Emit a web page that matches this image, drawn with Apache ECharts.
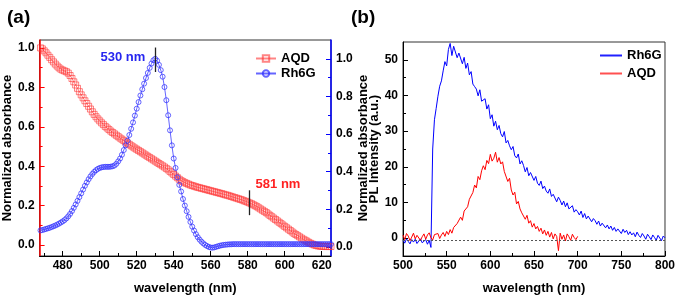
<!DOCTYPE html>
<html><head><meta charset="utf-8">
<script src="https://cdn.jsdelivr.net/npm/echarts@6/dist/echarts.min.js"></script>
<style>html,body{margin:0;padding:0;background:#fff}#c{width:678px;height:304px}</style>
</head><body><div id="c"></div>
<script>
// ---------- Panel (a): absorbance, 468..625 nm, 1 nm steps ----------
const absWavelength = [];
for (let w = 468; w <= 625; w++) absWavelength.push(w);

const aqdAbsorbance = [
  1.000,0.995,0.985,0.975,0.963,0.952,0.940,0.929,0.918,0.908,
  0.899,0.892,0.887,0.883,0.879,0.872,0.860,0.845,0.828,0.812,
  0.795,0.778,0.762,0.747,0.732,0.718,0.704,0.690,0.676,0.663,
  0.651,0.640,0.630,0.620,0.611,0.602,0.594,0.586,0.578,0.571,
  0.564,0.557,0.550,0.543,0.537,0.530,0.523,0.517,0.511,0.504,
  0.498,0.492,0.486,0.480,0.474,0.468,0.462,0.456,0.450,0.444,
  0.438,0.432,0.426,0.420,0.414,0.408,0.402,0.396,0.389,0.382,
  0.374,0.366,0.358,0.350,0.342,0.334,0.327,0.322,0.317,0.313,
  0.309,0.305,0.302,0.299,0.296,0.293,0.291,0.288,0.286,0.283,
  0.281,0.278,0.276,0.273,0.271,0.268,0.266,0.263,0.261,0.258,
  0.255,0.253,0.250,0.247,0.244,0.241,0.238,0.235,0.232,0.229,
  0.225,0.222,0.218,0.214,0.210,0.205,0.200,0.195,0.189,0.183,
  0.177,0.171,0.165,0.158,0.151,0.144,0.137,0.130,0.123,0.116,
  0.109,0.102,0.095,0.088,0.081,0.074,0.067,0.060,0.054,0.048,
  0.042,0.036,0.030,0.025,0.020,0.014,0.009,0.005,0.001,-0.002,
  -0.004,-0.005,-0.006,-0.006,-0.007,-0.007,-0.007,-0.007
];

const rh6gAbsorbance = [
  0.088,0.090,0.093,0.096,0.099,0.102,0.106,0.110,0.114,0.119,
  0.124,0.130,0.136,0.143,0.152,0.163,0.176,0.191,0.208,0.226,
  0.245,0.265,0.285,0.305,0.325,0.343,0.360,0.375,0.388,0.399,
  0.408,0.415,0.420,0.423,0.425,0.426,0.426,0.426,0.427,0.429,
  0.433,0.442,0.455,0.470,0.490,0.515,0.540,0.565,0.595,0.628,
  0.662,0.698,0.735,0.770,0.805,0.838,0.868,0.898,0.925,0.952,
  0.975,0.992,1.000,0.990,0.968,0.940,0.905,0.850,0.780,0.700,
  0.620,0.540,0.470,0.420,0.370,0.330,0.295,0.255,0.220,0.190,
  0.160,0.133,0.108,0.087,0.068,0.052,0.039,0.028,0.019,0.011,
  0.005,0.000,-0.003,-0.004,-0.002,0.001,0.004,0.007,0.009,0.011,
  0.012,0.013,0.014,0.014,0.015,0.015,0.015,0.015,0.015,0.015,
  0.015,0.015,0.015,0.015,0.015,0.015,0.015,0.015,0.015,0.015,
  0.015,0.015,0.015,0.015,0.015,0.015,0.015,0.015,0.015,0.015,
  0.015,0.015,0.015,0.015,0.015,0.015,0.015,0.015,0.015,0.015,
  0.015,0.015,0.015,0.015,0.015,0.015,0.015,0.015,0.015,0.015,
  0.015,0.015,0.015,0.015,0.015,0.015,0.015,0.015
];

const absXTicks = [480,500,520,540,560,580,600,620];
const absXMinor = [470,490,510,530,550,570,590,610];
const absYTicks = [0,0.2,0.4,0.6,0.8,1.0];
const absYMinor = [0.1,0.3,0.5,0.7,0.9];

const peakLabels = ['530 nm', '581 nm'];
const peakWavelengths = [530, 581];

// ---------- Panel (b): PL intensity, 2 nm steps ----------
const rh6gPLWavelength = [];
for (let w = 500; w <= 800; w += 2) rh6gPLWavelength.push(w);
const rh6gPL = [
  -0.5,-1.4,-0.2,-0.9,-1.6,-0.4,-1.1,-0.3,-1.5,-0.8,
  -0.2,-1.3,-1.0,-0.4,-1.7,-0.6,-2.6,25.0,33.2,36.4,
  39.8,42.6,44.1,46.9,49.5,48.3,52.9,54.6,51.2,53.8,
  54.3,50.6,51.9,52.4,48.9,50.7,47.6,49.1,45.8,46.7,
  43.2,42.5,41.8,39.9,41.6,38.4,38.0,39.1,36.2,37.4,
  33.5,34.6,31.4,32.8,30.4,31.6,29.3,28.4,29.9,26.7,
  27.4,25.9,24.8,25.7,23.1,22.5,23.6,20.8,21.7,20.4,
  18.6,19.8,17.5,18.4,17.9,16.2,17.3,15.4,14.8,16.0,
  13.9,14.6,13.2,12.6,13.8,11.7,12.3,11.9,10.2,11.5,
  10.6,9.3,10.4,8.8,9.9,8.2,8.6,9.1,7.3,8.0,
  7.4,6.5,7.6,5.8,6.9,5.4,6.2,5.7,4.6,5.5,
  4.9,3.9,4.8,3.4,4.2,3.8,2.9,3.7,2.6,3.4,
  2.2,3.0,1.9,2.6,2.4,1.3,2.5,1.6,2.2,1.0,
  1.8,0.9,1.5,0.4,1.7,0.8,0.2,1.3,0.6,-0.3,
  1.1,0.4,-0.4,0.9,0.2,-0.6,0.8,0.3,-0.7,0.6,
  0.1
];

const aqdPLWavelength = [];
for (let w = 500; w <= 700; w += 2) aqdPLWavelength.push(w);
const aqdPL = [
  0.9,-0.4,1.3,0.6,-0.7,0.3,1.4,-0.2,0.8,1.1,
  -0.6,0.4,1.2,-0.3,0.9,1.5,0.1,-0.5,1.0,0.6,
  1.3,-0.1,0.9,1.6,0.5,1.9,1.0,2.4,1.4,3.0,
  2.6,4.1,3.8,5.9,5.0,7.6,7.3,8.8,10.9,10.4,
  12.8,14.9,14.1,17.3,16.4,18.9,20.3,19.2,21.8,20.9,
  23.5,21.6,22.4,24.1,21.3,22.6,20.8,21.4,18.7,18.2,
  15.9,16.8,13.5,12.1,12.9,9.6,10.3,8.2,7.1,7.6,
  5.3,6.4,4.2,4.9,3.1,4.1,2.6,3.3,1.9,2.8,
  1.2,2.3,0.8,1.9,0.3,1.6,-0.2,1.2,0.5,-3.5,
  1.4,-0.3,0.9,-0.8,1.2,0.4,-0.6,1.1,0.2,-0.4,
  0.5
];
const plBaseline = -0.5;

const plXTicks = [500,550,600,650,700,750,800];
const plXMinor = [525,575,625,675,725,775];
const plYTicks = [0,10,20,30,40,50];
const plYMinor = [5,15,25,35,45];

// ---------- build ----------
const zip = (xs, ys) => xs.map((x, i) => [x, ys[i]]);
const FONT = '"Liberation Sans", Arial, sans-serif';
const lbl = { fontFamily: FONT, fontWeight: 'bold', fontSize: 12, color: '#000' };
const nameStyle = { fontFamily: FONT, fontWeight: 'bold', fontSize: 13, color: '#000' };

function xMajor(grid, min, max, ticks) {
  return { gridIndex: grid, type: 'value', min, max, position: 'bottom',
    axisLine: { show: true, onZero: false, lineStyle: { color: '#000', width: 1 } },
    axisTick: { show: true, inside: true, length: 5, customValues: ticks, lineStyle: { color: '#000' } },
    axisLabel: Object.assign({ margin: 4, customValues: ticks }, lbl),
    splitLine: { show: false },
    name: 'wavelength (nm)', nameLocation: 'middle', nameGap: 26, nameTextStyle: nameStyle };
}
function xMinor(grid, min, max, ticks) {
  return { gridIndex: grid, type: 'value', min, max, position: 'bottom',
    axisLine: { show: false, onZero: false },
    axisTick: { show: true, inside: true, length: 3, customValues: ticks, lineStyle: { color: '#000' } },
    axisLabel: { show: false }, splitLine: { show: false } };
}
function yMajor(grid, pos, min, max, ticks, color, width, fmt, name, gap) {
  return { gridIndex: grid, type: 'value', min, max, position: pos,
    axisLine: { show: true, onZero: false, lineStyle: { color, width } },
    axisTick: { show: true, inside: true, length: 5, customValues: ticks, lineStyle: { color } },
    axisLabel: Object.assign({ margin: 5, customValues: ticks, formatter: fmt }, lbl),
    splitLine: { show: false },
    name, nameLocation: 'middle', nameRotate: 90, nameGap: gap, nameTextStyle: nameStyle };
}
function yMinor(grid, pos, min, max, ticks, color) {
  return { gridIndex: grid, type: 'value', min, max, position: pos,
    axisLine: { show: false, onZero: false },
    axisTick: { show: true, inside: true, length: 3, customValues: ticks, lineStyle: { color } },
    axisLabel: { show: false }, splitLine: { show: false } };
}

const f1 = v => Number(v).toFixed(1);
const f0 = v => String(Math.round(v));
const RED = 'rgba(255,50,50,0.6)';
const BLUE = 'rgba(50,50,255,0.75)';

const chart = echarts.init(document.getElementById('c'), null, { renderer: 'canvas' });
const option = {
  animation: false,
  backgroundColor: '#fff',
  grid: [
    { left: 39, top: 40, width: 292, height: 216, show: true, borderColor: '#333', borderWidth: 1, backgroundColor: 'transparent' },
    { left: 403, top: 42, width: 264, height: 214, show: true, borderColor: '#333', borderWidth: 1, backgroundColor: 'transparent' }
  ],
  xAxis: [
    xMajor(0, 467.5, 625, absXTicks),
    xMinor(0, 467.5, 625, absXMinor),
    xMajor(1, 500, 800, plXTicks),
    xMinor(1, 500, 800, plXMinor)
  ],
  yAxis: [
    yMajor(0, 'left', -0.055, 1.04, absYTicks, '#ff0000', 1.5, f1, 'Normalized absorbance', 19),
    yMajor(0, 'right', -0.048, 1.10, absYTicks, '#0000ff', 1.5, f1, 'Normalized absorbance', 22),
    yMinor(0, 'left', -0.055, 1.04, absYMinor, '#ff0000'),
    yMinor(0, 'right', -0.048, 1.10, absYMinor, '#0000ff'),
    yMajor(1, 'left', -5, 55, plYTicks, '#000', 1, f0, 'PL Intensity (a.u.)', 18),
    yMinor(1, 'left', -5, 55, plYMinor, '#000')
  ],
  legend: [
    { orient: 'vertical', left: 250, top: 47, itemWidth: 20, itemHeight: 8, itemGap: 2,
      data: ['AQD', 'Rh6G'], textStyle: { fontFamily: FONT, fontWeight: 'bold', fontSize: 13, color: '#000' } },
    { orient: 'vertical', left: 595, top: 44, itemWidth: 22, itemHeight: 2, itemGap: 5, icon: 'rect',
      data: ['Rh6G_PL', 'AQD_PL'], formatter: n => n.replace('_PL', ''),
      textStyle: { fontFamily: FONT, fontWeight: 'bold', fontSize: 13, color: '#000' } }
  ],
  series: [
    { name: 'AQD', type: 'line', xAxisIndex: 0, yAxisIndex: 0, data: zip(absWavelength, aqdAbsorbance),
      symbol: 'rect', symbolSize: 6, showSymbol: true,
      itemStyle: { color: 'rgba(255,255,255,0)', borderColor: RED, borderWidth: 1 },
      lineStyle: { color: RED, width: 1 },
      markLine: { silent: true, symbol: 'none', label: { show: false },
        lineStyle: { color: '#222', width: 1.3, type: 'solid' },
        data: [[{ coord: [peakWavelengths[1], 0.278] }, { coord: [peakWavelengths[1], 0.152] }]] } },
    { name: 'Rh6G', type: 'line', xAxisIndex: 0, yAxisIndex: 1, data: zip(absWavelength, rh6gAbsorbance),
      symbol: 'circle', symbolSize: 5, showSymbol: true,
      itemStyle: { color: 'rgba(255,255,255,0)', borderColor: BLUE, borderWidth: 1 },
      lineStyle: { color: BLUE, width: 1 },
      markLine: { silent: true, symbol: 'none', label: { show: false },
        lineStyle: { color: '#222', width: 1.3, type: 'solid' },
        data: [[{ coord: [peakWavelengths[0], 1.06] }, { coord: [peakWavelengths[0], 0.93] }]] } },
    { name: 'Rh6G_PL', type: 'line', xAxisIndex: 2, yAxisIndex: 4, data: zip(rh6gPLWavelength, rh6gPL),
      symbol: 'none', lineStyle: { color: '#0000ff', width: 1 }, itemStyle: { color: '#2020ff' } },
    { name: 'AQD_PL', type: 'line', xAxisIndex: 2, yAxisIndex: 4, data: zip(aqdPLWavelength, aqdPL),
      symbol: 'none', lineStyle: { color: '#ff0000', width: 1 }, itemStyle: { color: '#ff5050' },
      markLine: { silent: true, symbol: 'none', label: { show: false },
        lineStyle: { color: '#555', width: 1, type: [2, 2] },
        data: [{ yAxis: plBaseline }] } }
  ]
};
chart.setOption(option);

const p530 = chart.convertToPixel({ xAxisIndex: 0, yAxisIndex: 1 }, [peakWavelengths[0], 1.0]);
const p581 = chart.convertToPixel({ xAxisIndex: 0, yAxisIndex: 0 }, [peakWavelengths[1], 0.214]);
chart.setOption({
  graphic: [
    { type: 'text', x: 7, y: 18, style: { text: '(a)', font: 'bold 19px "Liberation Sans", Arial', fill: '#000', verticalAlign: 'middle' } },
    { type: 'text', x: 351, y: 18, style: { text: '(b)', font: 'bold 19px "Liberation Sans", Arial', fill: '#000', verticalAlign: 'middle' } },
    { type: 'text', x: p530[0] - 10, y: p530[1] - 1, style: { text: peakLabels[0], font: 'bold 13px "Liberation Sans", Arial', fill: '#2626f0', align: 'right', verticalAlign: 'middle' } },
    { type: 'text', x: p581[0] + 6, y: p581[1] - 19, style: { text: peakLabels[1], font: 'bold 13px "Liberation Sans", Arial', fill: '#ff2222', align: 'left', verticalAlign: 'middle' } }
  ]
});
</script></body></html>
